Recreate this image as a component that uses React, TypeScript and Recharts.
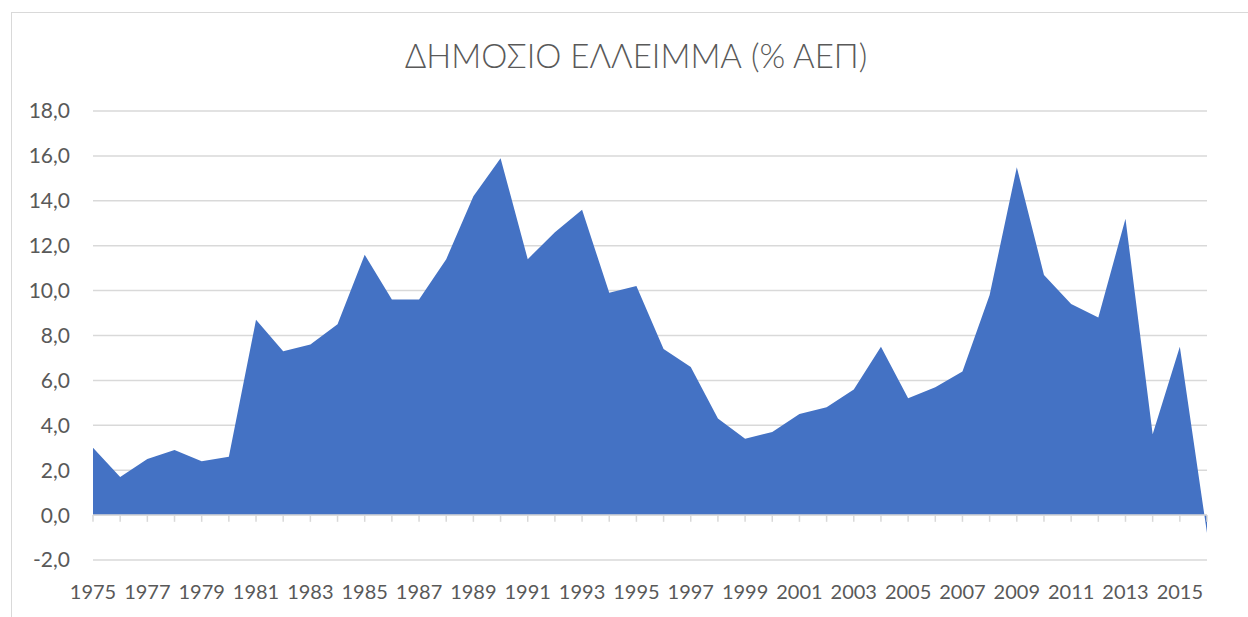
import React from 'react';
import { AreaChart, Area, XAxis, YAxis, CartesianGrid, ReferenceLine } from 'recharts';

const years: string[] = [
  '1975', '1976', '1977', '1978', '1979', '1980', '1981', '1982', '1983', '1984',
  '1985', '1986', '1987', '1988', '1989', '1990', '1991', '1992', '1993', '1994',
  '1995', '1996', '1997', '1998', '1999', '2000', '2001', '2002', '2003', '2004',
  '2005', '2006', '2007', '2008', '2009', '2010', '2011', '2012', '2013', '2014',
  '2015', '2016',
];

const deficit: number[] = [
  3.0, 1.7, 2.5, 2.9, 2.4, 2.6, 8.7, 7.3, 7.6, 8.5,
  11.6, 9.6, 9.6, 11.4, 14.2, 15.9, 11.4, 12.6, 13.6, 9.9,
  10.2, 7.4, 6.6, 4.3, 3.4, 3.7, 4.5, 4.8, 5.6, 7.5,
  5.2, 5.7, 6.4, 9.8, 15.5, 10.7, 9.4, 8.8, 13.2, 3.6,
  7.5, -0.8,
];

const yTicks: number[] = [-2, 0, 2, 4, 6, 8, 10, 12, 14, 16, 18];
const title = 'ΔΗΜΟΣΙΟ ΕΛΛΕΙΜΜΑ (% ΑΕΠ)';

const data = years.map((y, i) => ({ year: y, value: deficit[i] }));

const FONT = 'Lato, "Open Sans", sans-serif';
const TEXT = '#595959';
const GRID = '#d9d9d9';

export default function App() {
  return (
    <div style={{ position: 'absolute', left: 0, top: 0, width: 1248, height: 617, overflow: 'hidden', background: '#fff' }}>
      <div
        style={{
          position: 'absolute',
          left: 11,
          top: 12,
          width: 1250,
          height: 640,
          border: `1px solid ${GRID}`,
          boxSizing: 'border-box',
        }}
      />
      <svg width={1248} height={100} style={{ position: 'absolute', left: 0, top: 0 }}>
        <text
          x={636}
          y={68}
          textAnchor="middle"
          fontFamily={FONT}
          fontWeight={300}
          fontSize={33}
          fill={TEXT}
        >
          {title}
        </text>
      </svg>
      <div style={{ position: 'absolute', left: 0, top: 0 }}>
        <AreaChart
          width={1248}
          height={617}
          data={data}
          margin={{ top: 111, right: 41, bottom: 17, left: 10 }}
        >
          <CartesianGrid horizontal vertical={false} stroke={GRID} strokeWidth={1.5} />
          <XAxis
            dataKey="year"
            type="category"
            interval={1}
            axisLine={false}
            tickLine={false}
            tickSize={0}
            tickMargin={25}
            height={40}
            padding={{ left: 0, right: 0 }}
            tick={{ fill: TEXT, fontSize: 20, fontFamily: FONT }}
          />
          <YAxis
            type="number"
            domain={[-2, 18]}
            ticks={yTicks}
            interval={0}
            width={83}
            axisLine={false}
            tickLine={false}
            tickSize={0}
            tickMargin={23}
            tickFormatter={(v: number) => v.toFixed(1).replace('.', ',')}
            tick={{ fill: TEXT, fontSize: 21, fontFamily: FONT }}
          />
          <Area
            type="linear"
            dataKey="value"
            baseValue={0}
            fill="#4472C4"
            fillOpacity={1}
            stroke="none"
            isAnimationActive={false}
          />
          <ReferenceLine y={0} stroke={GRID} strokeWidth={1.5} ifOverflow="visible" />
          {years.map((yr) => (
            <ReferenceLine
              key={yr}
              segment={[{ x: yr, y: 0 }, { x: yr, y: -0.3 }]}
              stroke={GRID}
              strokeWidth={1.5}
              ifOverflow="visible"
            />
          ))}
        </AreaChart>
      </div>
    </div>
  );
}
